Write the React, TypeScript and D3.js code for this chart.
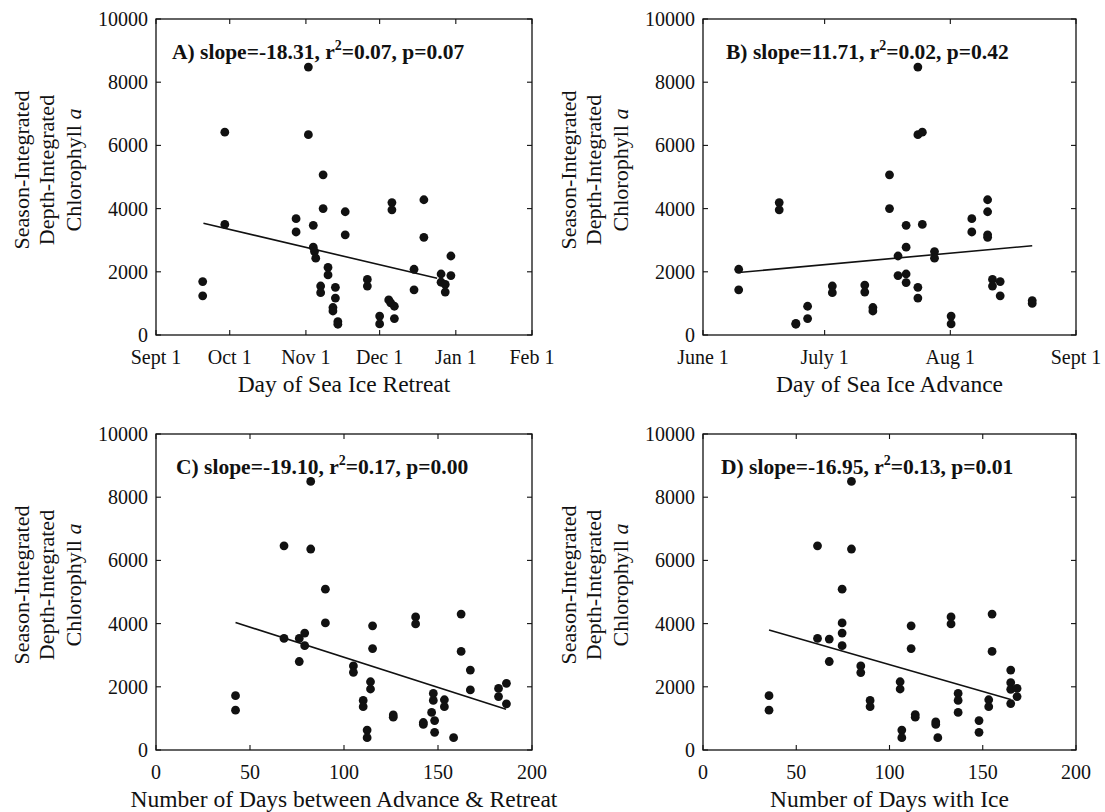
import React from "react";
import * as d3 from "d3";

// Season-integrated, depth-integrated chlorophyll a against four sea-ice metrics.
// Each point: [x, chlorophyll].

const retreatPoints: [number, number][] = [
  [62, 8480], [28, 6420], [62, 6340], [68, 5070], [68, 4000], [77, 3900], [96, 4190], [96, 3960],
  [109, 4280], [109, 3090], [28, 3500], [57, 3680], [57, 3260], [64, 3470], [77, 3170], [64, 2780],
  [64.5, 2640], [65, 2430], [70, 2140], [70, 1900], [67, 1550], [67, 1340], [73, 1510], [73, 1170],
  [72, 870], [72, 760], [74, 420], [74, 340], [86, 1760], [86, 1550], [91, 600], [91, 350],
  [94.7, 1110], [95.5, 1020], [97, 910], [97, 520], [105, 2080], [105, 1430], [19, 1690], [19, 1240],
  [116, 1930], [116, 1670], [117.7, 1600], [117.7, 1360], [120, 2500], [120, 1880],
];

const advancePoints: [number, number][] = [
  [53, 8480], [53, 6340], [54.1, 6420], [46, 5070], [46, 4000], [18.8, 4190], [18.8, 3960],
  [70.2, 4280], [70.2, 3900], [70.2, 3170], [70.2, 3090], [66.3, 3680], [66.3, 3260], [50.1, 3470],
  [54.1, 3500], [50.1, 2780], [48.1, 2500], [57.1, 2640], [57.1, 2430], [8.8, 2080], [8.8, 1430],
  [31.9, 1550], [31.9, 1340], [39.9, 1580], [39.9, 1360], [48.1, 1880], [50.1, 1930], [50.1, 1660],
  [53, 1510], [53, 1170], [25.8, 910], [25.8, 520], [22.9, 370], [22.9, 340], [41.9, 870],
  [41.9, 760], [61.2, 600], [61.2, 350], [71.4, 1760], [71.4, 1550], [73.3, 1690], [73.3, 1240],
  [81.2, 1090], [81.2, 1000],
];

const betweenPoints: [number, number][] = [
  [82.3, 8500], [68.1, 6460], [82.3, 6360], [90.1, 5090], [90.1, 4020], [115.2, 3930], [138.1, 4210],
  [138.1, 3990], [162.3, 4300], [162.3, 3120], [68.1, 3530], [76.2, 3530], [79.1, 3700], [79.1, 3300],
  [76.2, 2800], [115.2, 3210], [105, 2660], [105, 2460], [167.2, 2530], [167.2, 1900], [114.1, 2160],
  [114.1, 1930], [110.2, 1570], [110.2, 1370], [112.3, 630], [112.3, 390], [126.2, 1110], [126.2, 1040],
  [142.2, 870], [142.2, 810], [147.5, 1790], [147.5, 1570], [146.6, 1190], [148.2, 930], [148.2, 560],
  [153.4, 1590], [153.4, 1370], [158.3, 390], [42.3, 1720], [42.3, 1260], [182.2, 1950], [182.2, 1690],
  [186.4, 2110], [186.4, 1460],
];

const iceDaysPoints: [number, number][] = [
  [79.6, 8500], [61.4, 6460], [79.6, 6360], [74.6, 5090], [74.6, 4020], [74.6, 3700], [74.6, 3300],
  [61.4, 3530], [67.7, 3510], [67.7, 2800], [84.6, 2660], [84.6, 2450], [111.6, 3930], [111.6, 3210],
  [133, 4210], [133, 3990], [155, 4300], [155, 3120], [165, 2530], [165, 2130], [165, 1920],
  [168.4, 1950], [168.4, 1690], [165, 1470], [35.4, 1720], [35.4, 1260], [89.6, 1570], [89.6, 1370],
  [105.7, 2160], [105.7, 1930], [106.6, 630], [106.6, 390], [113.8, 1120], [113.8, 1040], [124.8, 890],
  [124.8, 810], [125.9, 390], [136.8, 1790], [136.8, 1570], [136.8, 1190], [148, 930], [148, 560],
  [153.2, 1590], [153.2, 1370],
];

// Regression fits: slope, intercept, x-range of the drawn line
const fitSlopes = [-18.31, 11.71, -19.1, -16.95];
const fitIntercepts = [3890, 1875, 4843, 4396];
const fitRanges: [number, number][] = [[19.3, 114.4], [8.8, 81.2], [42.3, 186.2], [35.4, 165]];
const fitStats = [
  { tag: "A)", slope: "-18.31", r2: "0.07", p: "0.07" },
  { tag: "B)", slope: "11.71", r2: "0.02", p: "0.42" },
  { tag: "C)", slope: "-19.10", r2: "0.17", p: "0.00" },
  { tag: "D)", slope: "-16.95", r2: "0.13", p: "0.01" },
];

// Axis ticks
const retreatTicks = [0, 30, 61, 91, 122, 153];
const retreatTickLabels = ["Sept 1", "Oct 1", "Nov 1", "Dec 1", "Jan 1", "Feb 1"];
const advanceTicks = [0, 30, 61, 92];
const advanceTickLabels = ["June 1", "July 1", "Aug 1", "Sept 1"];
const dayCountTicks = [0, 50, 100, 150, 200];
const dayCountTickLabels = ["0", "50", "100", "150", "200"];
const chlTicks = [0, 2000, 4000, 6000, 8000, 10000];

const xTitles = [
  "Day of Sea Ice Retreat",
  "Day of Sea Ice Advance",
  "Number of Days between Advance & Retreat",
  "Number of Days with Ice",
];

const FONT = "'Liberation Serif', 'Times New Roman', Times, serif";
const INK = "#111";

type PanelProps = {
  left: number;
  right: number;
  top: number;
  bottom: number;
  xDomain: [number, number];
  xTicks: number[];
  xTickLabels: string[];
  xTitle: string;
  points: [number, number][];
  idx: number;
  statDx: number;
};

function Panel(p: PanelProps) {
  const x = d3.scaleLinear().domain(p.xDomain).range([p.left, p.right]);
  const y = d3.scaleLinear().domain([0, 10000]).range([p.bottom, p.top]);
  const tickLen = 5;
  const slope = fitSlopes[p.idx];
  const icpt = fitIntercepts[p.idx];
  const [fx0, fx1] = fitRanges[p.idx];
  const fitLine = d3
    .line<number>()
    .x((d) => x(d))
    .y((d) => y(icpt + slope * d))([fx0, fx1]);
  const st = fitStats[p.idx];
  const midY = (p.top + p.bottom) / 2 - 7;

  return (
    <g>
      {/* frame */}
      <rect
        x={p.left}
        y={p.top}
        width={p.right - p.left}
        height={p.bottom - p.top}
        fill="none"
        stroke={INK}
        strokeWidth={1.3}
      />
      {/* x ticks (bottom and top, inward) */}
      {p.xTicks.map((t, i) => (
        <g key={"xt" + i}>
          <line x1={x(t)} x2={x(t)} y1={p.bottom} y2={p.bottom - tickLen} stroke={INK} strokeWidth={1.1} />
          <line x1={x(t)} x2={x(t)} y1={p.top} y2={p.top + tickLen} stroke={INK} strokeWidth={1.1} />
          <text
            x={x(t)}
            y={p.bottom + 29}
            textAnchor="middle"
            fontSize={20}
            fontFamily={FONT}
            fill={INK}
          >
            {p.xTickLabels[i]}
          </text>
        </g>
      ))}
      {/* y ticks (left and right, inward) */}
      {chlTicks.map((t) => (
        <g key={"yt" + t}>
          <line x1={p.left} x2={p.left + tickLen} y1={y(t)} y2={y(t)} stroke={INK} strokeWidth={1.1} />
          <line x1={p.right} x2={p.right - tickLen} y1={y(t)} y2={y(t)} stroke={INK} strokeWidth={1.1} />
          <text
            x={p.left - 8}
            y={y(t)}
            dy="0.35em"
            textAnchor="end"
            fontSize={20}
            fontFamily={FONT}
            fill={INK}
          >
            {t}
          </text>
        </g>
      ))}
      {/* axis titles */}
      <text
        x={(p.left + p.right) / 2}
        y={p.bottom + 57}
        textAnchor="middle"
        fontSize={23.5}
        fontFamily={FONT}
        fill={INK}
      >
        {p.xTitle}
      </text>
      <g fontSize={22} fontFamily={FONT} fill={INK} textAnchor="middle">
        <text transform={`translate(${p.left - 127},${midY}) rotate(-90)`}>Season-Integrated</text>
        <text transform={`translate(${p.left - 102},${midY}) rotate(-90)`}>Depth-Integrated</text>
        <text transform={`translate(${p.left - 75},${midY}) rotate(-90)`}>
          Chlorophyll <tspan fontStyle="italic">a</tspan>
        </text>
      </g>
      {/* regression line */}
      <path d={fitLine || ""} fill="none" stroke={INK} strokeWidth={1.6} />
      {/* points */}
      {p.points.map((d, i) => (
        <circle key={"pt" + i} cx={x(d[0])} cy={y(d[1])} r={4.4} fill={INK} />
      ))}
      {/* fit statistics */}
      <text
        x={p.left + p.statDx}
        y={p.top + 40}
        fontSize={21.5}
        fontWeight="bold"
        fontFamily={FONT}
        fill={INK}
      >
        {`${st.tag} slope=${st.slope}, r`}
        <tspan fontSize={14} dy={-9}>2</tspan>
        <tspan dy={9}>{`=${st.r2}, p=${st.p}`}</tspan>
      </text>
    </g>
  );
}

export default function App() {
  const L1 = 156, R1 = 532, L2 = 703, R2 = 1076;
  const T1 = 19, B1 = 335, T2 = 434, B2 = 750;
  return (
    <svg
      width={1105}
      height={812}
      style={{ position: "absolute", left: 0, top: 0, background: "#fff" }}
    >
      <rect width={1105} height={812} fill="#fff" />
      <Panel left={L1} right={R1} top={T1} bottom={B1} xDomain={[0, 153]} xTicks={retreatTicks}
        xTickLabels={retreatTickLabels} xTitle={xTitles[0]} points={retreatPoints} idx={0} statDx={16} />
      <Panel left={L2} right={R2} top={T1} bottom={B1} xDomain={[0, 92]} xTicks={advanceTicks}
        xTickLabels={advanceTickLabels} xTitle={xTitles[1]} points={advancePoints} idx={1} statDx={23} />
      <Panel left={L1} right={R1} top={T2} bottom={B2} xDomain={[0, 200]} xTicks={dayCountTicks}
        xTickLabels={dayCountTickLabels} xTitle={xTitles[2]} points={betweenPoints} idx={2} statDx={20} />
      <Panel left={L2} right={R2} top={T2} bottom={B2} xDomain={[0, 200]} xTicks={dayCountTicks}
        xTickLabels={dayCountTickLabels} xTitle={xTitles[3]} points={iceDaysPoints} idx={3} statDx={18} />
    </svg>
  );
}
